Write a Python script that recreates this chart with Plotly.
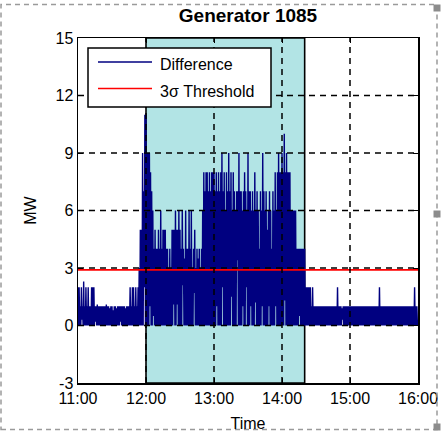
import plotly.graph_objects as go
import pandas as pd

BASE = "2014-01-01"
START = "11:00"
END = "16:00"

# x tick labels and y ticks
tick_times = ["11:00", "12:00", "13:00", "14:00", "15:00", "16:00"]
y_ticks = [-3, 0, 3, 6, 9, 12, 15]
y_tick_text = ["-3", "0", "3", "6", "9", "12", "15"]

# anomaly window (shaded)
window = ["12:00", "14:20"]

# 3-sigma threshold (MW)
threshold = 2.9

# Difference signal, one minute steps from 11:00: local maxima and minima of each minute
peaks = [
    2, 2, 1, 2, 1, 2.3, 1, 2, 1, 2,
    1, 1, 2, 2, 2, 1, 1, 1.1, 1, 1,
    1, 1, 1, 1, 1, 1.1, 1, 1, 0.9, 1,
    1, 0.8, 1, 1, 0.9, 1, 1, 1, 1, 1,
    1, 1, 0.9, 1, 1, 1, 2, 1, 2, 2,
    1, 2, 1, 2, 3, 5, 5, 9, 7, 11,
    11, 9, 9, 9, 8, 7, 6, 4, 5, 4,
    4, 5, 4, 6, 4, 5, 5, 5, 4, 4,
    3, 4, 3, 5, 5, 5, 6, 5, 5, 6,
    5, 4, 6, 4, 3.5, 6, 4, 4, 6, 4,
    6, 3, 4, 5, 3, 4, 3.5, 4, 3, 4,
    6, 8, 7, 8, 8, 7, 8, 7, 8, 8,
    8, 7, 8, 7, 8, 7, 8, 9, 7, 8,
    6, 8, 7, 9, 7, 8, 6, 8, 7, 6,
    7, 7, 9, 7, 7, 6, 7, 8, 7, 6,
    9, 7, 7, 6, 7, 6, 8, 6, 7, 6,
    4, 7, 6, 9, 7, 6, 7, 5, 6, 7,
    6, 4, 7, 6, 8, 6, 8, 9, 8, 8,
    9, 8, 10, 8, 9, 8, 8, 8, 6, 6,
    6, 6, 6, 4, 4, 4, 4, 4, 4, 4,
    4, 2, 2, 2, 2, 2, 1, 2, 1, 1,
    1, 1, 1, 1, 1, 1, 1, 1, 1, 1,
    1, 1, 1, 1, 1, 1, 1, 1, 1, 2,
    1, 1, 1, 0.9, 1, 1, 1, 1, 1, 1,
    1, 1, 1, 1, 1, 1, 1, 1, 1, 1,
    1, 1, 1, 1, 1, 1, 1, 1, 1, 1,
    1, 1, 1, 1, 1, 1, 2, 1, 1, 1,
    1, 1, 1, 1, 1, 1, 1, 1, 1, 1,
    1, 1, 1, 1, 1, 1, 1, 1, 1, 1,
    1, 1, 1, 1, 1, 1, 1, 2, 1, 1,
]
troughs = [
    0, 0, 0, 0.3, 0, 0, 0, 0, 0, 0,
    0, 0, 0, 0, 0, 0.2, 0, 0, 0, 0,
    0, 0, 0, 0, 0, 0, 0, 0, 0, 0,
    0, 0, 0, 0, 0, 0, 0, 0.2, 0, 0,
    0, 0, 0, 0, 0, 0, 0, 0, 0, 0,
    0, 0, 0, 0, 0, 0, 0, 0, 2, 0,
    0, 0, 0, 1, 0, 0, 0.5, 0, 0, 0,
    0, 0, 0, 0, 0, 0, 0, 0, 0, 0,
    0, 0, 0, 0, 1.1, 0, 0, 1.1, 0, 0,
    0, 0, 2.1, 0, 0, 0, 0, 0, 0, 0,
    0, 0, 1.7, 0, 0, 0, 0, 0, 0, 0,
    0, 0, 0, 0, 0, 0, 0, 0, 0, 0,
    0, 0, 1, 0, 0, 0, 0, 2, 0, 0,
    0, 0, 0, 0, 0, 1.5, 0, 0, 0, 0,
    3.4, 0, 0, 0, 0, 1, 0, 0, 2, 0,
    0, 0, 1, 0, 0, 0, 1.2, 0, 0, 0,
    0, 0, 1, 0, 0, 0, 0, 0, 1, 0,
    0, 0, 0, 0, 1, 0, 0, 0, 0, 0,
    0, 0, 1.3, 0, 0, 0, 0, 0, 0, 0,
    0, 0, 0, 0, 0, 0.5, 0, 0, 0, 0,
    0, 0, 0, 0, 0, 0, 0, 0, 0, 0,
    0, 0, 0, 0, 0, 0, 0, 0, 0, 0,
    0, 0, 0, 0, 0, 0, 0, 0, 0, 0,
    0, 0, 0, 0.3, 0, 0, 0, 0, 0, 0,
    0, 0, 0, 0, 0, 0, 0, 0, 0, 0,
    0, 0, 0, 0, 0, 0, 0, 0, 0, 0,
    0, 0, 0, 0, 0, 0, 0, 0, 0, 0,
    0, 0, 0, 0, 0, 0, 0, 0, 0, 0,
    0, 0, 0, 0, 0, 0, 0, 0, 0, 0,
    0, 0, 0, 0, 0, 0, 0, 0, 0, 0,
]

start = pd.Timestamp(f"{BASE} {START}")
xs, ys = [], []
for i, (p, t) in enumerate(zip(peaks, troughs)):
    xs.append(start + pd.Timedelta(minutes=i))
    ys.append(p)
    xs.append(start + pd.Timedelta(minutes=i, seconds=30))
    ys.append(t)

def ts(hm):
    return f"{BASE} {hm}:00"

FONT = "Liberation Sans, Arial, sans-serif"

fig = go.Figure()
fig.add_trace(go.Scatter(x=xs, y=ys, mode="lines", name="Difference",
                         line=dict(color="#000080", width=1.4), showlegend=False))
fig.add_trace(go.Scatter(x=[ts(START), ts(END)], y=[threshold, threshold], mode="lines",
                         name="3σ Threshold", line=dict(color="#ff0000", width=1.8),
                         showlegend=False))

shapes = []
# shaded anomaly window
shapes.append(dict(type="rect", xref="x", yref="paper", x0=ts(window[0]), x1=ts(window[1]),
                   y0=0, y1=1, fillcolor="#b2e4e5", line=dict(color="black", width=1.6),
                   layer="below"))
# dashed grid above the data
for t in tick_times[1:-1]:
    shapes.append(dict(type="line", xref="x", yref="paper", x0=ts(t), x1=ts(t), y0=0, y1=1,
                       line=dict(color="black", width=1.5, dash="6px,5px"), layer="above"))
for v in y_ticks[1:-1]:
    shapes.append(dict(type="line", xref="paper", yref="y", x0=0, x1=1, y0=v, y1=v,
                       line=dict(color="black", width=1.5, dash="6px,5px"), layer="above"))

# legend box
W, H = 340.0, 345.0
def px(x):
    return (x - 78) / W
def py(y):
    return (383 - y) / H

shapes.append(dict(type="rect", xref="paper", yref="paper", x0=px(88), x1=px(271),
                   y0=py(107), y1=py(48), fillcolor="white",
                   line=dict(color="black", width=1.5), layer="above"))
shapes.append(dict(type="line", xref="paper", yref="paper", x0=px(98), x1=px(152),
                   y0=py(62), y1=py(62), line=dict(color="#000080", width=1.5), layer="above"))
shapes.append(dict(type="line", xref="paper", yref="paper", x0=px(98), x1=px(152),
                   y0=py(88.5), y1=py(88.5), line=dict(color="#ff0000", width=1.5), layer="above"))

# figure selection border
shapes.append(dict(type="rect", xref="paper", yref="paper", x0=px(1), x1=px(437),
                   y0=py(429.5), y1=py(4.5), line=dict(color="#9a9a9a", width=1.5, dash="5px,4px"),
                   layer="above"))
for (cx, cy) in [(437, 8), (437, 214), (437, 427)]:
    shapes.append(dict(type="rect", xref="paper", yref="paper", x0=px(cx - 3.5), x1=px(cx + 3.5),
                       y0=py(cy + 3.5), y1=py(cy - 3.5), fillcolor="#8c8c8c",
                       line=dict(width=0), layer="above"))

annotations = [
    dict(xref="paper", yref="paper", x=px(158), y=py(64), xanchor="left", yanchor="middle",
         text="Difference", showarrow=False, font=dict(family=FONT, size=16, color="black")),
    dict(xref="paper", yref="paper", x=px(158), y=py(91), xanchor="left", yanchor="middle",
         text="3σ Threshold", showarrow=False, font=dict(family=FONT, size=16, color="black")),
]

axis_common = dict(showline=True, linecolor="black", linewidth=1.5, mirror="ticks",
                   ticks="inside", ticklen=5, tickcolor="black", tickwidth=1,
                   showgrid=False, zeroline=False, layer="above traces", automargin=False,
                   tickfont=dict(family=FONT, size=16, color="black"))

fig.update_layout(
    width=442, height=433, autosize=False,
    margin=dict(l=78, r=24, t=38, b=50, autoexpand=False),
    paper_bgcolor="white", plot_bgcolor="white",
    font=dict(family=FONT, color="black"),
    title=dict(text="<b>Generator 1085</b>", x=0.5, xref="paper", xanchor="center",
               y=1 - 15 / 433, yref="container", yanchor="middle", automargin=False,
               font=dict(family=FONT, size=19, color="black")),
    xaxis=dict(type="date", range=[ts(START), ts(END)],
               tickvals=[ts(t) for t in tick_times], ticktext=tick_times,
               title=dict(text="Time", standoff=12, font=dict(family=FONT, size=16)),
               **axis_common),
    yaxis=dict(range=[y_ticks[0], y_ticks[-1]], tickvals=y_ticks, ticktext=y_tick_text,
               title=dict(text="MW", standoff=15, font=dict(family=FONT, size=16)),
               **axis_common),
    shapes=shapes,
    annotations=annotations,
    showlegend=False,
)

fig.write_html("out.html", config={"displayModeBar": False, "staticPlot": True})

# remove the browser's default page margin so the figure sits at the window origin
with open("out.html", "r", encoding="utf-8") as f:
    html = f.read()
html = html.replace("<head>", "<head><style>html,body{margin:0;padding:0;overflow:hidden;}</style>", 1)
with open("out.html", "w", encoding="utf-8") as f:
    f.write(html)
